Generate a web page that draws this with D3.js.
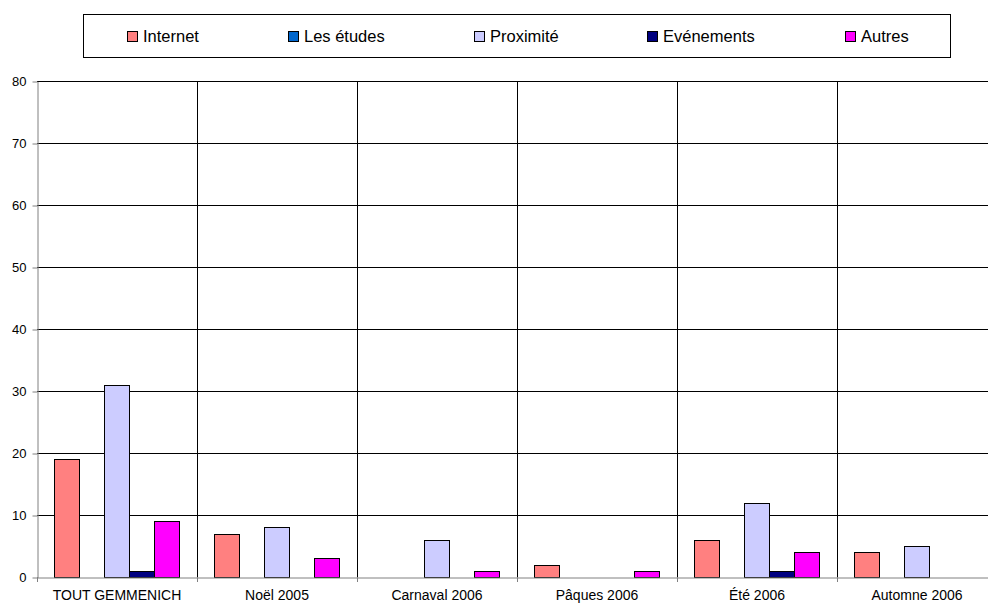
<!DOCTYPE html>
<html>
<head>
<meta charset="utf-8">
<script src="https://cdn.jsdelivr.net/npm/d3@7"></script>
<style>
  body { margin: 0; background: #fff; }
  text { font-family: "Liberation Sans", Arial, sans-serif; }
</style>
</head>
<body>
<script>
var categories = ['TOUT GEMMENICH', 'Noël 2005', 'Carnaval 2006', 'Pâques 2006', 'Été 2006', 'Automne 2006'];
var seriesNames = ['Internet', 'Les études', 'Proximité', 'Evénements', 'Autres'];
var seriesColors = ['#ff8080', '#0066cc', '#ccccff', '#000080', '#ff00ff'];

var internet = [19, 7, 0, 2, 6, 4];
var etudes = [0, 0, 0, 0, 0, 0];
var proximite = [31, 8, 6, 0, 12, 5];
var evenements = [1, 0, 0, 0, 1, 0];
var autres = [9, 3, 1, 1, 4, 0];
var yTicks = [0, 10, 20, 30, 40, 50, 60, 70, 80];

var seriesValues = [internet, etudes, proximite, evenements, autres];

var width = 988, height = 603;
var plot = { left: 37, right: 997, top: 81, bottom: 577 };

var svg = d3.select('body').append('svg')
  .attr('width', width)
  .attr('height', height);

var x = d3.scaleBand()
  .domain(categories)
  .range([plot.left, plot.right]);

var xInner = d3.scaleBand()
  .domain(seriesNames)
  .range([0, x.bandwidth()])
  .paddingOuter(0.7)
  .paddingInner(0);

var y = d3.scaleLinear()
  .domain([0, 80])
  .range([plot.bottom, plot.top]);

// horizontal gridlines
svg.append('g').selectAll('line')
  .data(yTicks.slice(1))
  .enter().append('line')
  .attr('x1', plot.left).attr('x2', plot.right)
  .attr('y1', function(d) { return Math.round(y(d)) + 0.5; })
  .attr('y2', function(d) { return Math.round(y(d)) + 0.5; })
  .style('stroke', '#000')
  .style('stroke-width', 1);

// vertical gridlines at category boundaries
svg.append('g').selectAll('line')
  .data(categories.slice(1))
  .enter().append('line')
  .attr('x1', function(d) { return Math.round(x(d)) + 0.5; })
  .attr('x2', function(d) { return Math.round(x(d)) + 0.5; })
  .attr('y1', plot.top).attr('y2', plot.bottom)
  .style('stroke', '#000')
  .style('stroke-width', 1);

// bars
var flat = [];
categories.forEach(function(c, ci) {
  seriesNames.forEach(function(s, si) {
    var v = seriesValues[si][ci];
    if (v > 0) flat.push({ cat: c, series: s, value: v, color: seriesColors[si] });
  });
});

svg.append('g').selectAll('rect')
  .data(flat)
  .enter().append('rect')
  .attr('x', function(d) { return Math.round(x(d.cat) + xInner(d.series)) - 0.5; })
  .attr('y', function(d) { return Math.round(y(d.value)) + 0.5; })
  .attr('width', Math.round(xInner.bandwidth()))
  .attr('height', function(d) { return Math.round(y(0)) - Math.round(y(d.value)); })
  .style('fill', function(d) { return d.color; })
  .style('stroke', '#000')
  .style('stroke-width', 1);

// y axis
var yAxis = svg.append('g')
  .attr('transform', 'translate(' + (plot.left + 0.5) + ',0.5)')
  .call(d3.axisLeft(y).tickValues(yTicks).tickSize(5).tickPadding(6).tickSizeOuter(0));
yAxis.select('.domain').style('stroke', '#808080');
yAxis.selectAll('.tick line').style('stroke', '#808080');
yAxis.selectAll('text').style('font-size', '13px').style('fill', '#000');

// x axis
var xAxis = svg.append('g')
  .attr('transform', 'translate(0,' + (plot.bottom + 0.5) + ')')
  .call(d3.axisBottom(x).tickSize(0).tickPadding(13).tickSizeOuter(0));
xAxis.select('.domain').style('stroke', '#808080');
xAxis.selectAll('text').style('font-size', '14px').style('fill', '#000');

// x tick marks at category boundaries
svg.append('g').selectAll('line')
  .data(categories)
  .enter().append('line')
  .attr('x1', function(d) { return Math.round(x(d)) + 0.5; })
  .attr('x2', function(d) { return Math.round(x(d)) + 0.5; })
  .attr('y1', plot.bottom).attr('y2', plot.bottom + 5)
  .style('stroke', '#808080');

// legend
var legend = svg.append('g');
legend.append('rect')
  .attr('x', 83.5).attr('y', 14.5)
  .attr('width', 867).attr('height', 43)
  .style('fill', '#fff')
  .style('stroke', '#000');

var legendX = [127, 288, 474, 647, 845];
var items = legend.selectAll('g.item')
  .data(seriesNames)
  .enter().append('g')
  .classed('item', true)
  .attr('transform', function(d, i) { return 'translate(' + legendX[i] + ',36)'; });

items.append('rect')
  .attr('x', 0.5).attr('y', -4.5)
  .attr('width', 10).attr('height', 10)
  .style('fill', function(d, i) { return seriesColors[i]; })
  .style('stroke', '#000');

items.append('text')
  .attr('x', 16)
  .attr('dy', '.38em')
  .style('font-size', '16.5px')
  .text(function(d) { return d; });
</script>
</body>
</html>
